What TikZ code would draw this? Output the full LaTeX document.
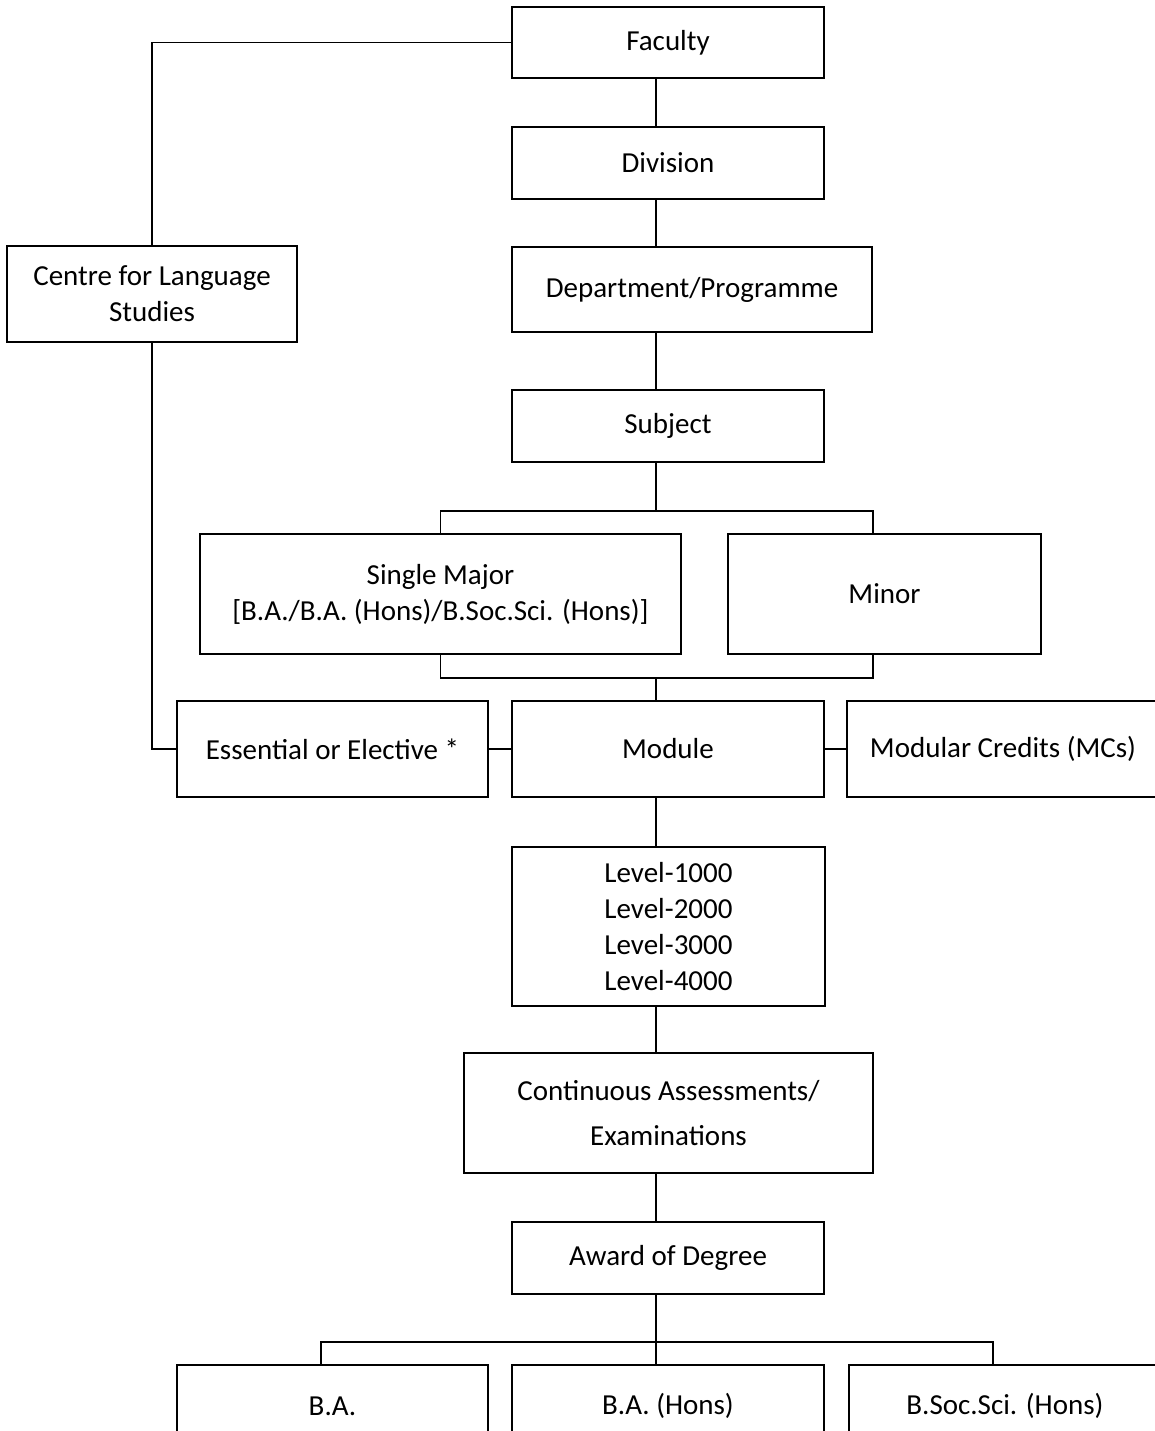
\documentclass[tikz,border=0pt]{standalone}
\usepackage{fontspec}
\setmainfont{Carlito}
\usetikzlibrary{calc}
\tikzset{
    basic box/.style 2 args = {
        shape = rectangle,
        align = center,
        draw  = black,
        line width = 0.8pt,
        inner sep = 0pt,
        minimum width = #1,
        minimum height = #2
    },
    link/.style = {
        draw = black,
        line width = 0.8pt
    }
}

\begin{document}
\begin{tikzpicture}[font=\fontsize{16.5}{20.5}\selectfont]
      \useasboundingbox (0,0) rectangle (23.1,-28.62);

      \node (faculty)  at (13.36, -0.85) [basic box = {6.24cm}{1.42cm}] {Faculty};
      \node (division) at (13.36, -3.26) [basic box = {6.24cm}{1.44cm}] {Division};
      \node (dept)     at (13.84, -5.79) [basic box = {7.2cm}{1.7cm}] {Department/Programme};
      \node (subject)  at (13.36, -8.52) [basic box = {6.24cm}{1.44cm}] {Subject};
      \node (centre)   at (3.04, -5.88)  [basic box = {5.8cm}{1.92cm}] {Centre for Language\\Studies};

      \node (single) at (8.81, -11.88)  [basic box = {9.62cm}{2.4cm}] {Single Major\\{[}B.A./B.A. (Hons)/B.Soc.Sci. (Hons){]}};
      \node (minor)  at (17.69, -11.88) [basic box = {6.26cm}{2.4cm}] {Minor};

      \node (essential) at (6.65, -14.98)  [basic box = {6.22cm}{1.92cm}] {Essential or Elective *};
      \node (module)    at (13.36, -14.98) [basic box = {6.24cm}{1.92cm}] {Module};
      \node (credits)   at (20.06, -14.98) [basic box = {6.24cm}{1.92cm}] {Modular Credits (MCs)};

      \node (levels) at (13.37, -18.53) [basic box = {6.26cm}{3.18cm}] {Level-1000\\Level-2000\\Level-3000\\Level-4000};
      \node (assess) at (13.37, -22.26) [basic box = {8.18cm}{2.4cm}] {Continuous Assessments/\\[0.18cm]Examinations};
      \node (award)  at (13.36, -25.16) [basic box = {6.24cm}{1.44cm}] {Award of Degree};

      \node (ba)     at (6.65, -28.12)  [basic box = {6.22cm}{1.64cm}] {B.A.};
      \node (bahons) at (13.36, -28.12) [basic box = {6.24cm}{1.64cm}] {B.A. (Hons)};
      \node (bsoc)   at (20.1, -28.12)  [basic box = {6.24cm}{1.64cm}] {B.Soc.Sci. (Hons)};

      % connector columns and junctions
      \coordinate (spine) at (13.12, 0);
      \coordinate (mcol)  at (17.46, 0);
      \coordinate (lcol)  at (6.42, 0);
      \coordinate (rcol)  at (19.86, 0);
      \coordinate (fork)  at (13.12, -10.22);
      \coordinate (join)  at (13.12, -13.56);
      \coordinate (split) at (13.12, -26.84);

      \draw[link] (faculty.west) -| (centre.north);
      \draw[link] (centre.south) |- (essential.west);
      \draw[link] (faculty.south -| spine) -- (division.north -| spine);
      \draw[link] (division.south -| spine) -- (dept.north -| spine);
      \draw[link] (dept.south -| spine) -- (subject.north -| spine);
      \draw[link] (subject.south -| spine) -- (fork);
      \draw[link] (single.north) |- (fork) -| (minor.north -| mcol);
      \draw[link] (single.south) |- (join) -| (minor.south -| mcol);
      \draw[link] (join) -- (module.north -| join);
      \draw[link] (essential) -- (module);
      \draw[link] (module) -- (credits);
      \draw[link] (module.south -| spine) -- (levels.north -| spine);
      \draw[link] (levels.south -| spine) -- (assess.north -| spine);
      \draw[link] (assess.south -| spine) -- (award.north -| spine);
      \draw[link] (award.south -| spine) -- (split);
      \draw[link] (ba.north -| lcol) |- (split) -| (bsoc.north -| rcol);
      \draw[link] (split) -- (bahons.north -| split);
\end{tikzpicture}
\end{document}
